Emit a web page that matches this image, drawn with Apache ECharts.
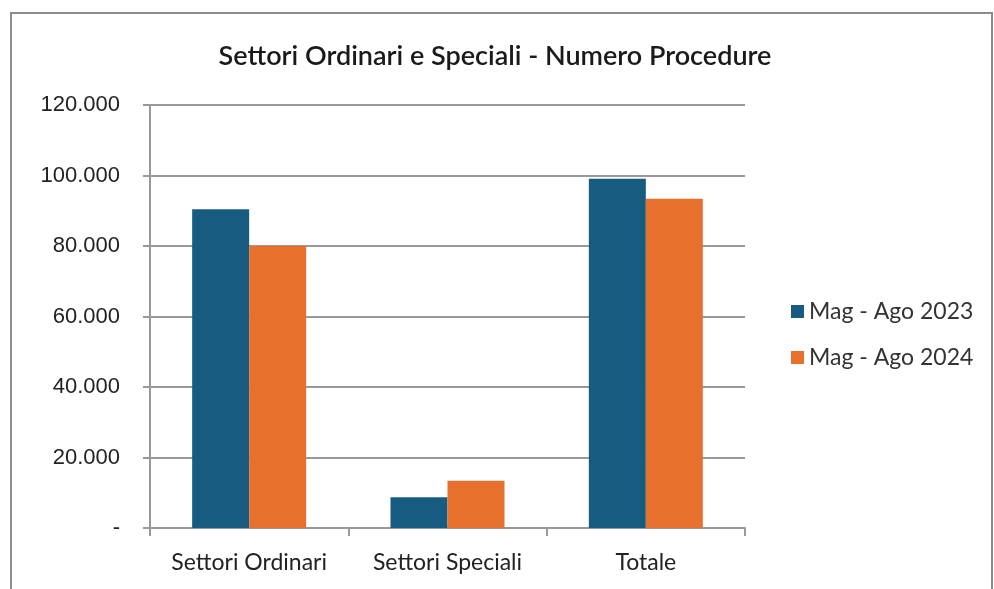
<!DOCTYPE html>
<html>
<head>
<meta charset="utf-8">
<script src="https://cdn.jsdelivr.net/npm/echarts@6/dist/echarts.min.js"></script>
<style>
  html, body { margin: 0; padding: 0; background: #fff; }
  #chart { width: 994px; height: 589px; }
</style>
</head>
<body>
<div id="chart"></div>
<script>
// --- Data ---
const categories = ['Settori Ordinari', 'Settori Speciali', 'Totale'];
const seriesNames = ['Mag - Ago 2023', 'Mag - Ago 2024'];
const values2023 = [90400, 8700, 99100];
const values2024 = [80000, 13400, 93400];
const colors = ['#175C80', '#E8702F'];

// 120000 -> "120.000", 0 -> "-"
function formatThousands(v) {
    if (v === 0) return '-';
    return String(v).replace(/\B(?=(\d{3})+(?!\d))/g, '.');
}

const chart = echarts.init(document.getElementById('chart'));

const option = {
    backgroundColor: '#fff',
    animation: false,
    title: {
        text: 'Settori Ordinari e Speciali - Numero Procedure',
        left: 490, top: 38, textAlign: 'center',
        textStyle: { fontFamily: 'Lato', fontSize: 27, fontWeight: 600, color: '#1a1a1a' }
    },
    graphic: [{
        type: 'rect', silent: true,
        shape: { x: 11, y: 13, width: 981, height: 600 },
        style: { fill: 'none', stroke: '#8c8c8c', lineWidth: 2 }
    }],
    legend: {
        orient: 'vertical', left: 786, top: 295,
        itemWidth: 13, itemHeight: 13, itemGap: 23,
        icon: 'rect',
        data: seriesNames,
        textStyle: { fontFamily: 'Lato', fontSize: 23, color: '#333' }
    },
    grid: { left: 150, right: 249, top: 105, bottom: 61 },
    xAxis: {
        type: 'category',
        data: categories,
        axisLine: { lineStyle: { color: '#999', width: 2 } },
        axisTick: { show: true, interval: 0, length: 8, lineStyle: { color: '#999', width: 2 } },
        axisLabel: { interval: 0, margin: 23, fontFamily: 'Lato', fontSize: 23, color: '#222' }
    },
    yAxis: {
        type: 'value',
        min: 0, max: 120000, interval: 20000,
        axisLine: { show: true, lineStyle: { color: '#999', width: 2 } },
        axisTick: { show: true, length: 7, lineStyle: { color: '#999', width: 2 } },
        splitLine: { lineStyle: { color: '#999', width: 2 } },
        axisLabel: {
            margin: 30, fontFamily: 'Liberation Sans', fontSize: 22, color: '#222',
            formatter: formatThousands
        }
    },
    series: [
        { name: seriesNames[0], type: 'bar', data: values2023, barWidth: 57, barGap: '0%', itemStyle: { color: colors[0] } },
        { name: seriesNames[1], type: 'bar', data: values2024, barWidth: 57, barGap: '0%', itemStyle: { color: colors[1] } }
    ]
};

chart.setOption(option);
</script>
</body>
</html>
